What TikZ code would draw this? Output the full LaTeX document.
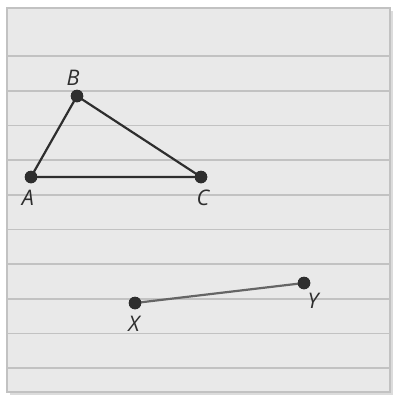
\documentclass[tikz,border=0pt]{standalone}
\usepackage{fontspec}
\setmainfont{Open Sans}
\begin{document}
\begin{tikzpicture}[x=1pt,y=-1pt,
  ruling/.style={draw=rulegray,line width=1.6pt},
  dot/.style={circle,fill=dotdark,inner sep=0pt,minimum size=12.5pt},
  lbl/.style={font=\fontsize{21.5}{24}\selectfont\itshape,text=dotdark,inner sep=0pt},
  tri/.style={draw=dotdark,line width=2.2pt},
  seg/.style={draw=seggray,line width=2.2pt}]
\definecolor{rulegray}{HTML}{C2C2C2}
\definecolor{papergray}{HTML}{E9E9E9}
\definecolor{shadowgray}{HTML}{DCDCDC}
\definecolor{dotdark}{HTML}{2E2E2E}
\definecolor{seggray}{HTML}{656565}
\useasboundingbox (0,0) rectangle (394,397);
\fill[white] (0,0) rectangle (394,397);
\fill[shadowgray] (10,11) rectangle (393,395);
\fill[papergray,draw=rulegray,line width=1.6pt] (7,8) rectangle (390,392);
\foreach \y in {56,90.7,125.3,160,194.7,229.3,264,298.7,333.3,368}
  \draw[ruling] (7,\y) -- (390,\y);
\node[dot] (A) at (31,177) {};
\node[dot] (B) at (77,96) {};
\node[dot] (C) at (201,177) {};
\node[dot] (X) at (135,303) {};
\node[dot] (Y) at (304,283) {};
\draw[tri] (A.center) -- (B.center) -- (C.center) -- cycle;
\draw[seg] (X.center) -- (Y.center);
\node[dot] at (A) {};
\node[dot] at (B) {};
\node[dot] at (C) {};
\node[dot] at (X) {};
\node[dot] at (Y) {};
\node[lbl] (lA) at (28,198) {A};
\node[lbl] (lB) at (73,78) {B};
\node[lbl] (lC) at (203,198) {C};
\node[lbl] (lX) at (134,324) {X};
\node[lbl] (lY) at (313,301) {Y};
\end{tikzpicture}
\end{document}
